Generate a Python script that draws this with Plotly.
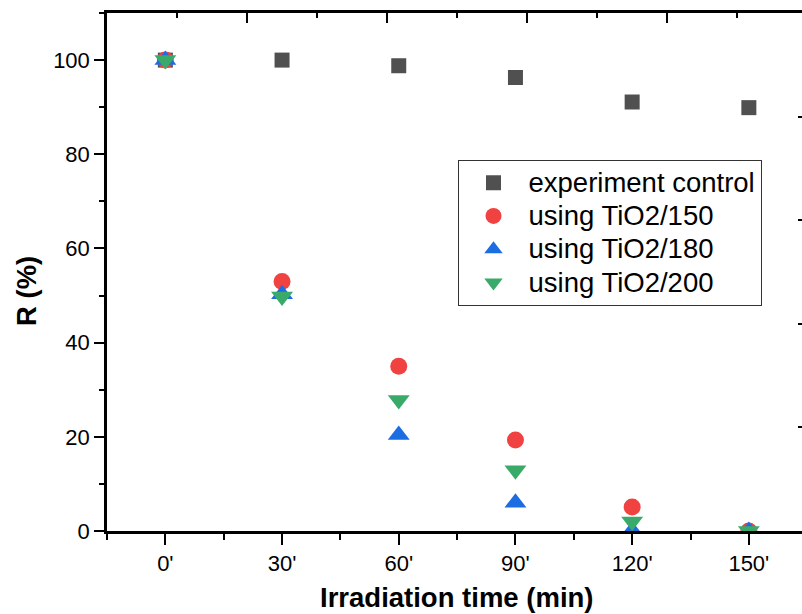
import plotly.graph_objects as go

# ---- data ----
time_min = [0, 30, 60, 90, 120, 150]
tick_labels = ["0'", "30'", "60'", "90'", "120'", "150'"]
control = [100.0, 100.0, 98.8, 96.3, 91.1, 89.9]
tio2_150 = [100.0, 53.0, 35.0, 19.3, 5.1, 0.0]
tio2_180 = [100.0, 50.3, 20.4, 6.0, 0.1, 0.0]
tio2_200 = [100.0, 49.8, 27.8, 12.9, 2.0, 0.0]

series_names = ["experiment control", "using TiO2/150", "using TiO2/180", "using TiO2/200"]
series_vals = [control, tio2_150, tio2_180, tio2_200]
colors = ["#505050", "#F14242", "#1C6DE2", "#3AAA6A"]
symbols = ["square", "circle", "triangle-up", "triangle-down"]
sizes = [15, 17, 19, 19]

FONT = "Liberation Sans, Arial, sans-serif"
W, H = 802, 614
ML, MR, MT, MB = 107, 0, 13, 83

fig = go.Figure()
for name, vals, c, s, sz in zip(series_names, series_vals, colors, symbols, sizes):
    fig.add_trace(go.Scatter(
        x=time_min, y=vals, mode="markers",
        name='<span style="font-size:27.5px">' + name + '</span>',
        marker=dict(symbol=s, color=c, size=sz, line=dict(width=0)),
    ))

# empty trace to create the top/right frame axes
fig.add_trace(go.Scatter(x=[], y=[], xaxis="x2", yaxis="y2", showlegend=False,
                         hoverinfo="skip", mode="markers"))

fig.update_layout(
    width=W, height=H,
    margin=dict(l=ML, r=MR, t=MT, b=MB),
    paper_bgcolor="white", plot_bgcolor="white",
    font=dict(family=FONT, color="black", size=22),
    showlegend=True,
    legend=dict(
        x=(457.5 - ML) / (W - ML - MR), y=(531 - 160) / (H - MT - MB),
        xanchor="left", yanchor="top",
        bgcolor="white", bordercolor="#333333", borderwidth=1,
        font=dict(family=FONT, size=23.3, color="black"),
        itemsizing="trace", itemwidth=60,
    ),
    xaxis=dict(
        range=[-15, -15 + 30 * (W - ML - MR) / 116.7],
        tickmode="array", tickvals=time_min, ticktext=tick_labels,
        ticks="outside", ticklen=11, tickwidth=2, tickcolor="black",
        showline=True, linewidth=2.5, linecolor="black",
        showgrid=False, zeroline=False,
        tickfont=dict(family=FONT, size=22, color="black"),
        minor=dict(dtick=15, tick0=0, ticks="outside", ticklen=6, tickwidth=2,
                   tickcolor="black", showgrid=False),
    ),
    yaxis=dict(
        range=[0, 110],
        tickmode="linear", tick0=0, dtick=20,
        ticks="outside", ticklen=10, tickwidth=2, tickcolor="black",
        showline=True, linewidth=2.5, linecolor="black",
        showgrid=False, zeroline=False,
        tickfont=dict(family=FONT, size=22, color="black"),
        minor=dict(dtick=10, tick0=0, ticks="outside", ticklen=5, tickwidth=2,
                   tickcolor="black", showgrid=False),
    ),
    xaxis2=dict(
        overlaying="x", side="top", anchor="y2",
        range=[0, (W - ML - MR) / 140.0],
        tickmode="linear", tick0=0, dtick=1,
        ticks="inside", ticklen=10, tickwidth=2, tickcolor="black",
        showticklabels=False,
        showline=True, linewidth=2.5, linecolor="black",
        showgrid=False, zeroline=False,
        minor=dict(dtick=0.5, tick0=0, ticks="inside", ticklen=5, tickwidth=2,
                   tickcolor="black", showgrid=False),
    ),
    yaxis2=dict(
        overlaying="y", side="right", anchor="x2",
        range=[0, 5],
        tickmode="linear", tick0=0, dtick=1,
        ticks="inside", ticklen=4, tickwidth=2, tickcolor="black",
        showticklabels=False, showline=False,
        showgrid=False, zeroline=False,
    ),
    annotations=[
        dict(text="<b>Irradiation time (min)</b>", xref="paper", yref="paper",
             x=(457 - ML) / (W - ML - MR), y=(H - MB - 597) / (H - MT - MB),
             xanchor="center", yanchor="middle", showarrow=False,
             font=dict(family=FONT, size=27.5, color="black")),
        dict(text="<b>R (%)</b>", xref="paper", yref="paper",
             x=(26 - ML) / (W - ML - MR), y=(H - MB - 291) / (H - MT - MB),
             xanchor="center", yanchor="middle", textangle=-90, showarrow=False,
             font=dict(family=FONT, size=27.5, color="black")),
    ],
)

fig.write_html("out.html")
